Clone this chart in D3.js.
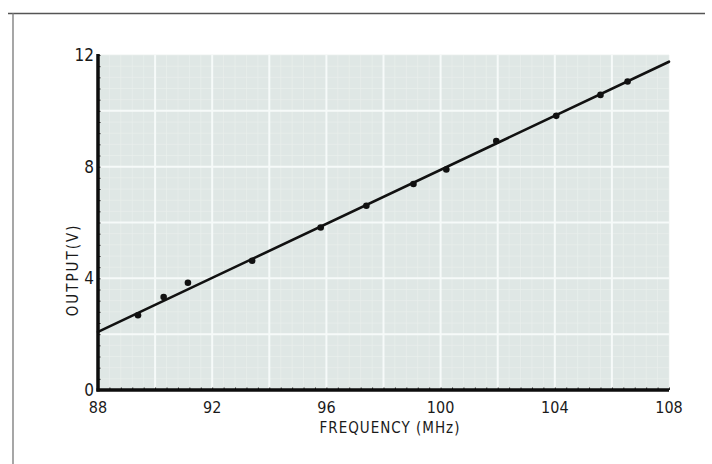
<!doctype html>
<html>
<head>
<meta charset="utf-8">
<script src="https://d3js.org/d3.v7.min.js"></script>
<style>
  body { margin: 0; background: #fff; }
  svg { display: block; }
  .lbl { font-family: "DejaVu Sans", sans-serif; font-stretch: condensed; fill: #1a1a1a; }
</style>
</head>
<body>
<svg id="chart" width="712" height="464"></svg>
<script>
// measured points, frequency (MHz) vs output (V)
var freq   = [89.4, 90.3, 91.15, 93.4, 95.8, 97.4, 99.05, 100.2, 101.95, 104.05, 105.6, 106.55];
var output = [2.68, 3.33, 3.84, 4.63, 5.82, 6.6, 7.38, 7.9, 8.92, 9.82, 10.57, 11.05];
// straight line drawn through the points
var fitFreq = [88, 108];
var fitOut  = [2.08, 11.76];
var xTicks = [88, 92, 96, 100, 104, 108];
var yTicks = [0, 4, 8, 12];

var svg = d3.select("#chart");
var pLeft = 98, pRight = 669, pTop = 55, pBottom = 390;

var x = d3.scaleLinear().domain([88, 108]).range([pLeft, pRight]);
var y = d3.scaleLinear().domain([0, 12]).range([pBottom, pTop]);

// page frame
svg.append("line").attr("x1", 8).attr("x2", 705).attr("y1", 13.5).attr("y2", 13.5)
  .attr("stroke", "#555").attr("stroke-width", 1.3);
svg.append("line").attr("x1", 13).attr("x2", 13).attr("y1", 13).attr("y2", 464)
  .attr("stroke", "#777").attr("stroke-width", 1.3);

// graph paper
svg.append("rect").attr("x", pLeft).attr("y", pTop)
  .attr("width", pRight - pLeft).attr("height", pBottom - pTop)
  .attr("fill", "#dfe7e5");

var fine = svg.append("g").attr("stroke", "#e9efed").attr("stroke-width", 0.7);
d3.range(88, 108.01, 0.4).forEach(function(v) {
  fine.append("line").attr("x1", x(v)).attr("x2", x(v)).attr("y1", pTop).attr("y2", pBottom);
});
d3.range(0, 12.01, 0.4).forEach(function(v) {
  fine.append("line").attr("y1", y(v)).attr("y2", y(v)).attr("x1", pLeft).attr("x2", pRight);
});
var major = svg.append("g").attr("stroke", "#f6faf9").attr("stroke-width", 2);
d3.range(90, 108, 2).forEach(function(v) {
  major.append("line").attr("x1", x(v)).attr("x2", x(v)).attr("y1", pTop).attr("y2", pBottom);
});
d3.range(2, 12, 2).forEach(function(v) {
  major.append("line").attr("y1", y(v)).attr("y2", y(v)).attr("x1", pLeft).attr("x2", pRight);
});

// fitted line
svg.append("line")
  .attr("x1", x(fitFreq[0])).attr("y1", y(fitOut[0]))
  .attr("x2", x(fitFreq[1])).attr("y2", y(fitOut[1]))
  .attr("stroke", "#111").attr("stroke-width", 2.6).attr("stroke-linecap", "round");

// data points
svg.selectAll("circle.pt").data(freq).enter().append("circle")
  .attr("class", "pt")
  .attr("cx", function(d) { return x(d); })
  .attr("cy", function(d, i) { return y(output[i]); })
  .attr("r", 3.3).attr("fill", "#111");

// axes
var xAxis = svg.append("g").attr("transform", "translate(0," + pBottom + ")")
  .call(d3.axisBottom(x).tickValues(d3.range(88, 108.01, 0.4)).tickSize(-2.5).tickFormat(""));
var yAxis = svg.append("g").attr("transform", "translate(" + pLeft + ",0)")
  .call(d3.axisLeft(y).tickValues(d3.range(0, 12.01, 0.4)).tickSize(-2.5).tickFormat(""));
[xAxis, yAxis].forEach(function(a) {
  a.select(".domain").remove();
  a.selectAll(".tick line").attr("stroke", "#222").attr("stroke-width", 1);
});
svg.append("line").attr("x1", pLeft).attr("x2", pLeft).attr("y1", pTop - 1).attr("y2", pBottom + 1.5)
  .attr("stroke", "#0d0d0d").attr("stroke-width", 3.5);
svg.append("line").attr("x1", pLeft - 1.5).attr("x2", pRight).attr("y1", pBottom).attr("y2", pBottom)
  .attr("stroke", "#0d0d0d").attr("stroke-width", 3.5);

// tick labels
svg.selectAll("text.xt").data(xTicks).enter().append("text")
  .attr("class", "lbl xt")
  .attr("x", function(d) { return x(d); }).attr("y", 413)
  .attr("text-anchor", "middle").attr("font-size", 16)
  .text(function(d) { return d; });
svg.selectAll("text.yt").data(yTicks).enter().append("text")
  .attr("class", "lbl yt")
  .attr("x", 94).attr("y", function(d) { return y(d) + 6; })
  .attr("text-anchor", "end").attr("font-size", 17)
  .text(function(d) { return d; });

// axis titles
svg.append("text").attr("class", "lbl")
  .attr("x", 390).attr("y", 433).attr("text-anchor", "middle")
  .attr("font-size", 15).attr("letter-spacing", 1)
  .text("FREQUENCY (MHz)");
svg.append("text").attr("class", "lbl")
  .attr("transform", "translate(78," + y(4.3) + ") rotate(-90)")
  .attr("text-anchor", "middle").attr("font-size", 15).attr("letter-spacing", 2)
  .text("OUTPUT(V)");
</script>
</body>
</html>
